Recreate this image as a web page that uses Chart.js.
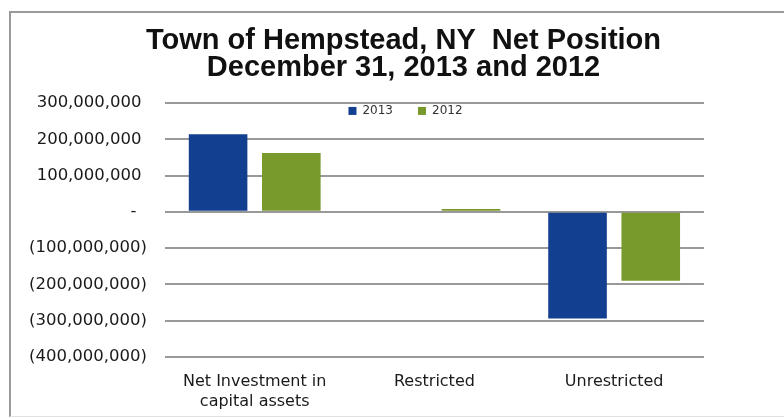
<!DOCTYPE html>
<html>
<head>
<meta charset="utf-8">
<script src="https://cdn.jsdelivr.net/npm/chart.js@4"></script>
<style>
  html, body { margin: 0; padding: 0; background: #fff; }
  .wrap { position: relative; width: 784px; height: 418px; overflow: hidden; }
  .frame {
    position: absolute; left: 9px; top: 11px; width: 800px; height: 403px;
    border-left: 2px solid #9a9a9a; border-top: 2px solid #9a9a9a; border-bottom: 1px solid #e2e2e2;
  }
  canvas { position: absolute; left: 0; top: 0; }
</style>
</head>
<body>
<div class="wrap">
  <div class="frame"></div>
  <canvas id="chart" width="784" height="418"></canvas>
</div>
<script>
// Chart data
const categories = [['Net Investment in', 'capital assets'], 'Restricted', 'Unrestricted'];
const seriesNames = ['2013', '2012'];
const values2013 = [214000000, 0, -294000000];
const values2012 = [162000000, 8000000, -190000000];
const yMin = -400000000;
const yMax = 300000000;
const yStep = 100000000;

const fmtTick = (v) => {
  if (v === 0) return '-  ';
  const s = Math.abs(v).toLocaleString('en-US');
  return v < 0 ? '(' + s + ')' : s + ' ';
};

// title + legend sit off-centre in the original, and the legend overlaps the plot top
const headerShift = {
  id: 'headerShift',
  afterLayout(chart) {
    const t = chart.titleBlock, l = chart.legend;
    t.left += 46; t.right += 46;
    l.left += 48; l.right += 48;
    l.top -= 2; l.height = 47; l.bottom = l.top + 47;
  }
};

new Chart(document.getElementById('chart').getContext('2d'), {
  type: 'bar',
  data: {
    labels: categories,
    datasets: [
      { label: seriesNames[0], data: values2013, backgroundColor: '#123f8f' },
      { label: seriesNames[1], data: values2012, backgroundColor: '#78992b' }
    ]
  },
  options: {
    responsive: false,
    animation: false,
    categoryPercentage: 0.815,
    barPercentage: 0.8,
    layout: { padding: { left: 11, right: 80, top: 0, bottom: 0 } },
    plugins: {
      title: {
        display: true,
        text: ['Town of Hempstead, NY  Net Position', 'December 31, 2013 and 2012'],
        color: '#111',
        font: { family: 'Liberation Sans', size: 29, weight: 'bold', lineHeight: 0.93 },
        padding: { top: 28, bottom: 0 }
      },
      legend: {
        position: 'top',
        maxHeight: 21,
        labels: {
          boxWidth: 8,
          boxHeight: 8,
          padding: 25,
          color: '#333',
          font: { family: 'DejaVu Sans', size: 12 }
        }
      },
      tooltip: { enabled: false }
    },
    scales: {
      x: {
        afterFit: (s) => { s.height = 61; },
        grid: { display: false, drawTicks: false },
        border: { display: false },
        ticks: {
          color: '#1a1a1a',
          padding: 14,
          maxRotation: 0,
          font: { family: 'DejaVu Sans', size: 16, lineHeight: 1.3 }
        }
      },
      y: {
        min: yMin,
        max: yMax,
        grid: { color: '#999', lineWidth: 2, drawTicks: false },
        border: { display: false },
        ticks: {
          stepSize: yStep,
          padding: 18,
          color: '#1a1a1a',
          font: { family: 'DejaVu Sans', size: 16.5 },
          callback: fmtTick
        }
      }
    }
  },
  plugins: [headerShift]
});
</script>
</body>
</html>
